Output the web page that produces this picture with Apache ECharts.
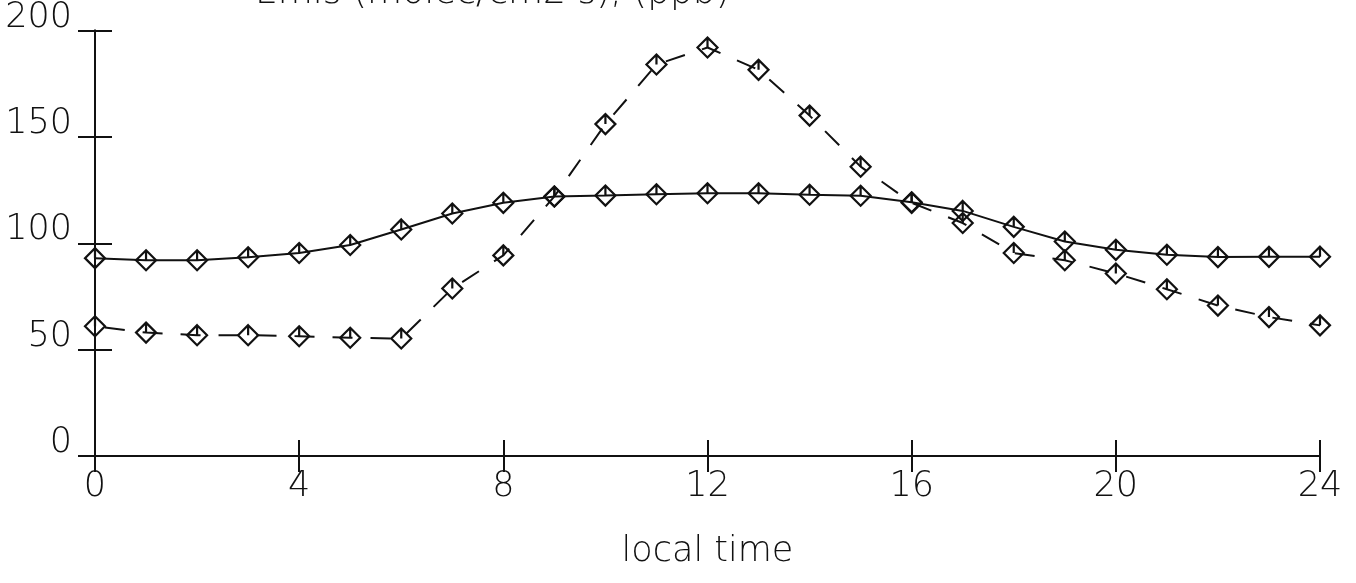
<!DOCTYPE html>
<html>
<head>
<meta charset="utf-8">
<script src="https://cdn.jsdelivr.net/npm/echarts@6/dist/echarts.min.js"></script>
<style>
  html, body { margin: 0; padding: 0; background: #fff; }
  #chart { width: 1356px; height: 583px; }
</style>
</head>
<body>
<div id="chart"></div>
<script>
// Hours of the day (local time)
const hours = [0,1,2,3,4,5,6,7,8,9,10,11,12,13,14,15,16,17,18,19,20,21,22,23,24];
// Solid curve
const solidValues = [93, 92, 92, 93.4, 95.4, 99.2, 106.5, 114, 119, 122, 122.4, 123, 123.5,
                     123.5, 122.8, 122.3, 119.3, 115.2, 107.7, 100.8, 96.9, 94.6, 93.5, 93.6, 93.7];
// Dashed curve
const dashedValues = [61, 58, 56.8, 56.8, 56.3, 55.6, 55.2, 78.7, 94.3, 122, 156, 184, 192,
                      181.5, 160, 136, 119, 109.5, 95.4, 92, 85.8, 78.4, 70.7, 65.3, 61.4];
// Axis ticks
const xTicks = [0, 4, 8, 12, 16, 20, 24];
const yTicks = [0, 50, 100, 150, 200];
const titleText = 'Emis (molec/cm2 s), (ppb)';
const xAxisName = 'local time';

const FONT = "'DejaVu Sans', sans-serif";
const INK = '#111';

// diamond with a short vertical stroke from the top vertex to the centre
const markerPath = 'path://M10,0 L20,10 L10,20 L0,10 Z M10,0 L10,10';

function pairs(vals) { return hours.map((h, i) => [h, vals[i]]); }

const chart = echarts.init(document.getElementById('chart'));

const axisLine = { show: true, lineStyle: { color: INK, width: 2 } };
const xMin = xTicks[0], xMax = xTicks[xTicks.length - 1];
const xStep = xTicks[1] - xTicks[0];
const yMin = yTicks[0], yMax = yTicks[yTicks.length - 1];
const yStep = yTicks[1] - yTicks[0];

chart.setOption({
  animation: false,
  backgroundColor: '#fff',
  graphic: [{
    type: 'text',
    left: 255,
    top: -24,
    style: { text: titleText, font: '200 36px ' + FONT, fill: INK }
  }],
  grid: { left: 95, right: 36, top: 24, bottom: 127, containLabel: false },
  xAxis: [{
    type: 'value', position: 'bottom', min: xMin, max: xMax, interval: xStep,
    axisLine: axisLine,
    axisTick: { show: true, inside: true, length: 16, lineStyle: { color: INK, width: 2 } },
    splitLine: { show: false },
    axisLabel: { color: INK, fontFamily: FONT, fontWeight: 200, fontSize: 35, lineHeight: 35, margin: 13 },
    name: xAxisName, nameLocation: 'middle', nameGap: 78,
    nameTextStyle: { color: INK, fontFamily: FONT, fontWeight: 200, fontSize: 35, lineHeight: 35 }
  }, {
    type: 'value', position: 'top', min: xMin, max: xMax, interval: xStep,
    axisLine: axisLine,
    axisTick: { show: true, inside: true, length: 16, lineStyle: { color: INK, width: 2 } },
    splitLine: { show: false },
    axisLabel: { show: false }
  }],
  yAxis: [{
    type: 'value', position: 'left', min: yMin, max: yMax, interval: yStep,
    axisLine: axisLine,
    axisTick: { show: true, inside: true, length: 17, lineStyle: { color: INK, width: 2 } },
    splitLine: { show: false },
    axisLabel: { color: INK, fontFamily: FONT, fontWeight: 200, fontSize: 35, lineHeight: 26,
                 verticalAlign: 'bottom', margin: 23 }
  }, {
    type: 'value', position: 'right', min: yMin, max: yMax, interval: yStep,
    axisLine: axisLine,
    axisTick: { show: true, inside: true, length: 17, lineStyle: { color: INK, width: 2 } },
    splitLine: { show: false },
    axisLabel: { show: false }
  }],
  series: [{
    name: 'solid',
    type: 'line',
    data: pairs(solidValues),
    symbol: markerPath, symbolSize: 20,
    lineStyle: { color: INK, width: 2, type: 'solid' },
    itemStyle: { color: 'rgba(255,255,255,0)', borderColor: INK, borderWidth: 2.2 },
    z: 3
  }, {
    name: 'dashed',
    type: 'line',
    data: pairs(dashedValues),
    symbol: markerPath, symbolSize: 20,
    lineStyle: { color: INK, width: 2, type: [20, 18], dashOffset: -10 },
    itemStyle: { color: 'rgba(255,255,255,0)', borderColor: INK, borderWidth: 2.2 },
    z: 3
  }]
});
</script>
</body>
</html>
